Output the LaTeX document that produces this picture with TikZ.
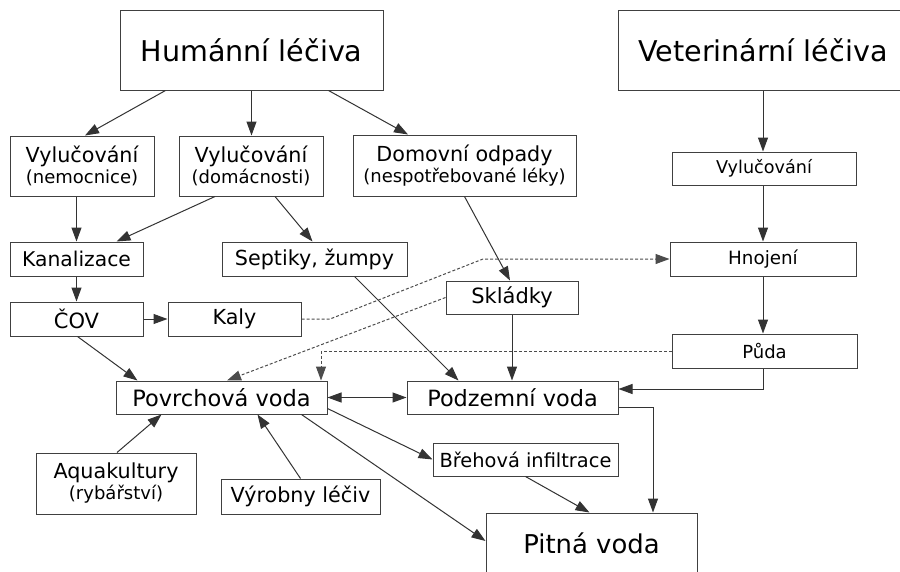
\documentclass[tikz,border=0pt]{standalone}
\usepackage{fontspec}
\setmainfont{DejaVu Sans}
\usetikzlibrary{arrows.meta,calc}
\tikzset{
  box/.style={draw=black!75, line width=1pt, inner sep=0pt, align=center, text=black, fill=white},
  tip/.style={-{Triangle[length=14pt,width=10pt]}},
  arr/.style={draw=black!80, line width=1pt, tip},
  darr/.style={draw=black!70, line width=1pt, dash pattern=on 3pt off 2pt, tip},
  big/.style={font=\fontsize{28.6}{32}\selectfont},
  mid/.style={font=\fontsize{20.7}{22}\selectfont},
  sml/.style={font=\fontsize{18}{20}\selectfont},
}
\newcommand{\subl}[1]{{\fontsize{18}{20}\selectfont #1}}
\begin{document}
\begin{tikzpicture}[x=1pt,y=-1pt]
\clip (0,0) rectangle (900,571);
\fill[white] (0,0) rectangle (900,571);
% nodes
\node[box,big,minimum width=263pt,minimum height=80pt] (hum) at (251.5,50) {Humánní léčiva};
\node[box,big,minimum width=290pt,minimum height=80pt] (vet) at (763,50) {Veterinární léčiva};
\node[box,mid,minimum width=144pt,minimum height=60pt] (vyln) at (82,166) {Vylučování\\[-1pt]\subl{(nemocnice)}};
\node[box,mid,minimum width=144pt,minimum height=60pt] (vyld) at (251,166) {Vylučování\\[-1pt]\subl{(domácnosti)}};
\node[box,mid,minimum width=223pt,minimum height=61pt] (dom) at (464.5,165.5) {Domovní odpady\\[-1pt]\subl{(nespotřebované léky)}};
\node[box,font=\fontsize{17.6}{20}\selectfont,minimum width=184pt,minimum height=33pt] (vylv) at (764,168.5) {Vylučování};
\node[box,font=\fontsize{20.3}{22}\selectfont,minimum width=133pt,minimum height=34pt] (kan) at (76.5,259) {Kanalizace};
\node[box,mid,minimum width=185pt,minimum height=34pt] (sep) at (314.5,259) {Septiky, žumpy};
\node[box,font=\fontsize{18.3}{20}\selectfont,minimum width=186pt,minimum height=34pt] (hno) at (763,259) {Hnojení};
\node[box,font=\fontsize{21}{22}\selectfont,minimum width=133pt,minimum height=34pt] (cov) at (76.5,319) {ČOV};
\node[box,mid,minimum width=133pt,minimum height=34pt] (kaly) at (234.5,319) {Kaly};
\node[box,font=\fontsize{21}{22}\selectfont,minimum width=132pt,minimum height=33pt] (skl) at (512,297.5) {Skládky};
\node[box,sml,minimum width=185pt,minimum height=34pt] (puda) at (764.5,351) {Půda};
\node[box,font=\fontsize{22.5}{24}\selectfont,minimum width=211pt,minimum height=33pt] (pov) at (221.5,397.5) {Povrchová voda};
\node[box,font=\fontsize{22.4}{24}\selectfont,minimum width=211pt,minimum height=33pt] (pod) at (512.5,397.5) {Podzemní voda};
\node[box,font=\fontsize{19.4}{22}\selectfont,minimum width=185pt,minimum height=33pt] (bre) at (525.5,459.5) {Břehová infiltrace};
\node[box,mid,minimum width=160pt,minimum height=61pt] (aqua) at (116,483.5) {Aquakultury\\[-1pt]\subl{(rybářství)}};
\node[box,mid,minimum width=159pt,minimum height=35pt] (vyr) at (300.5,496.5) {Výrobny léčiv};
\node[box,font=\fontsize{25.9}{28}\selectfont,minimum width=211pt,minimum height=60pt] (pit) at (591.5,543) {Pitná voda};
% named bend points of dashed connector
\coordinate (k1) at (330,319);
\coordinate (k2) at (483,259);
% solid connectors
\draw[arr] ([xshift=-86pt]hum.south) -- ([xshift=3pt]vyln.north);
\draw[arr] (hum.south) -- (hum.south |- vyld.north);
\draw[arr] ([xshift=77pt]hum.south) -- ([xshift=-56.5pt]dom.north);
\draw[arr] (vet.south) -- (vet.south |- vylv.north);
\draw[arr] (vylv.south -| vet.south) -- (vet.south |- hno.north);
\draw[arr] (hno.south -| vet.south) -- (vet.south |- puda.north);
\draw[arr] (kan.north |- vyln.south) -- (kan.north);
\draw[arr] ([xshift=-36pt]vyld.south) -- ([xshift=40pt]kan.north);
\draw[arr] ([xshift=24pt]vyld.south) -- ([xshift=-2pt]sep.north);
\draw[arr] (kan.south) -- (cov.north);
\draw[arr] (cov.east) -- (kaly.west);
\draw[arr] ([xshift=1pt]cov.south) -- ([xshift=-84pt]pov.north);
\draw[arr] (dom.south) -- ([xshift=-2pt]skl.north);
\draw[arr] ([xshift=40pt]sep.south) -- ([xshift=-54pt]pod.north);
\draw[arr] (skl.south) -- (skl.south |- pod.north);
\draw[arr] (vet.south |- puda.south) |- ([yshift=8.5pt]pod.east);
\draw[draw=black!80, line width=1pt, {Triangle[length=14pt,width=10pt]}-{Triangle[length=14pt,width=10pt]}] (pov.east) -- (pod.west);
\draw[arr] ([yshift=-9.5pt]pod.east) -| ([xshift=61.5pt]pit.north);
\draw[arr] ([yshift=-11pt]pov.east) -- (bre.west);
\draw[arr] ([xshift=80pt]pov.south) -- ([yshift=2pt]pit.west);
\draw[arr] (bre.south) -- ([xshift=-2pt]pit.north);
\draw[arr] ([xshift=1pt]aqua.north) -- ([xshift=-60pt]pov.south);
\draw[arr] (vyr.north) -- ([xshift=36pt]pov.south);
% dashed connectors
\draw[darr] (kaly.east) -- (k1) -- (k2) -- (hno.west);
\draw[darr] (skl.west) -- ([xshift=5.5pt]pov.north);
\draw[darr] (puda.west) -| ([xshift=99.5pt]pov.north);
\end{tikzpicture}
\end{document}
